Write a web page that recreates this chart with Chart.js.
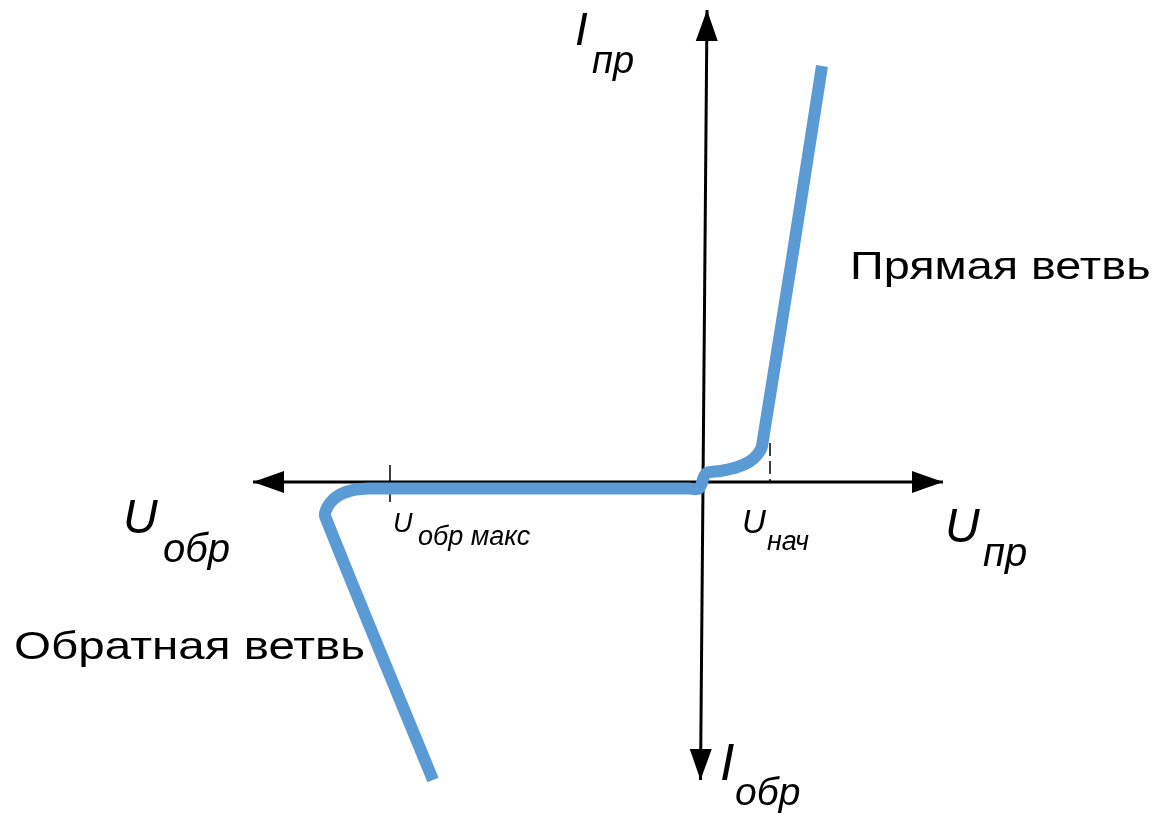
<!DOCTYPE html>
<html>
<head>
<meta charset="utf-8">
<script src="https://cdn.jsdelivr.net/npm/chart.js@4/dist/chart.umd.min.js"></script>
<style>
  html,body{margin:0;padding:0;background:#fff;}
  #wrap{width:1160px;height:814px;position:relative;}
</style>
</head>
<body>
<div id="wrap"><canvas id="vac"></canvas></div>
<script>
// ВАХ диода: напряжение U (x) и ток I (y), условные единицы
const curveU=[-27.1,-37.9,-37.8,-37.4,-36.7,-35.8,-34.8,-33.6,-32.5,-1.5,-0.5,0.2,1.6,3.2,4.5,5.3,5.8,11.8];
const curveI=[-29.8,-3.4,-2.8,-2.1,-1.45,-1.0,-0.75,-0.65,-0.65,-0.65,-0.65,0.85,1.1,1.45,2.0,2.7,3.6,41.6];

// оси
const axisUx=[-45.1,23.9], axisUy=[0,0];
const axisIx=[-0.35,0.3], axisIy=[-29.8,47.2];

// отметки Uобр макс и Uнач
const tickMaxU=[-31.4,-31.4], tickMaxI=[1.7,-2.0];
const tickStartU=[6.6,6.6], tickStartI=[3.9,0];

const zip=(xs,ys)=>xs.map((x,i)=>({x,y:ys[i]}));

const FONT='"Liberation Sans", Arial, sans-serif';
const labels=[
  {t:"I",x:-12.9,y:43.7,size:46,it:true},{t:"пр",x:-11.2,y:40.9,size:38,it:true},
  {t:"U",x:-58.1,y:-5.1,size:48,it:true},{t:"обр",x:-54.1,y:-8.0,size:40,it:true},
  {t:"U",x:-31.1,y:-5.0,size:27,it:true},{t:"обр макс",x:-28.6,y:-6.3,size:27,it:true},
  {t:"U",x:3.8,y:-5.1,size:33,it:true},{t:"нач",x:6.3,y:-6.8,size:27,it:true},
  {t:"U",x:24.1,y:-6.0,size:48,it:true},{t:"пр",x:27.9,y:-8.4,size:40,it:true},
  {t:"I",x:1.6,y:-29.8,size:52,it:true},{t:"обр",x:3.1,y:-32.3,size:39,it:true},
  {t:"Прямая ветвь",x:14.6,y:20.3,size:39,it:false,sx:1.2},
  {t:"Обратная ветвь",x:-69.0,y:-17.7,size:39,it:false,sx:1.22}
];

const arrowPlugin={
  id:"arrows",
  afterDatasetsDraw(chart){
    const ctx=chart.ctx;
    chart.data.datasets.forEach((ds,i)=>{
      if(!ds.arrows) return;
      const pts=chart.getDatasetMeta(i).data;
      const ends=[[pts[pts.length-1],pts[pts.length-2]],[pts[0],pts[1]]];
      for(const [tip,from] of ends){
        const a=Math.atan2(tip.y-from.y,tip.x-from.x);
        const len=31, hw=11;
        ctx.save();
        ctx.translate(tip.x,tip.y);
        ctx.rotate(a);
        ctx.beginPath();
        ctx.moveTo(0,0);
        ctx.lineTo(-len,-hw);
        ctx.lineTo(-len,hw);
        ctx.closePath();
        ctx.fillStyle="#000";
        ctx.fill();
        ctx.restore();
      }
    });
  }
};

const textPlugin={
  id:"texts",
  afterDraw(chart){
    const ctx=chart.ctx, sx=chart.scales.x, sy=chart.scales.y;
    ctx.fillStyle="#000";
    for(const l of labels){
      ctx.save();
      ctx.textBaseline="alphabetic";
      ctx.textAlign="left";
      ctx.font=(l.it?"italic ":"")+l.size+"px "+FONT;
      ctx.translate(sx.getPixelForValue(l.x),sy.getPixelForValue(l.y));
      ctx.scale(l.sx||1,1);
      ctx.fillText(l.t,0,0);
      ctx.restore();
    }
  }
};

new Chart(document.getElementById("vac"),{
  type:"scatter",
  data:{datasets:[
    {data:zip(curveU,curveI),showLine:true,borderColor:"#5B9BD5",borderWidth:12,
     borderJoinStyle:"round",pointRadius:0,tension:0.3,order:0},
    {data:zip(axisUx,axisUy),showLine:true,borderColor:"#000",borderWidth:3,pointRadius:0,arrows:true,order:2},
    {data:zip(axisIx,axisIy),showLine:true,borderColor:"#000",borderWidth:3,pointRadius:0,arrows:true,order:2},
    {data:zip(tickMaxU,tickMaxI),showLine:true,borderColor:"#000",borderWidth:1.5,pointRadius:0,order:1},
    {data:zip(tickStartU,tickStartI),showLine:true,borderColor:"#000",borderWidth:1.5,borderDash:[13,5],pointRadius:0,order:1}
  ]},
  options:{
    responsive:true,maintainAspectRatio:false,animation:false,
    layout:{padding:0},
    plugins:{legend:{display:false},tooltip:{enabled:false}},
    scales:{
      x:{type:"linear",min:-70.4,max:45.6,display:false},
      y:{type:"linear",min:-33.2,max:48.2,display:false}
    }
  },
  plugins:[arrowPlugin,textPlugin]
});
</script>
</body>
</html>
